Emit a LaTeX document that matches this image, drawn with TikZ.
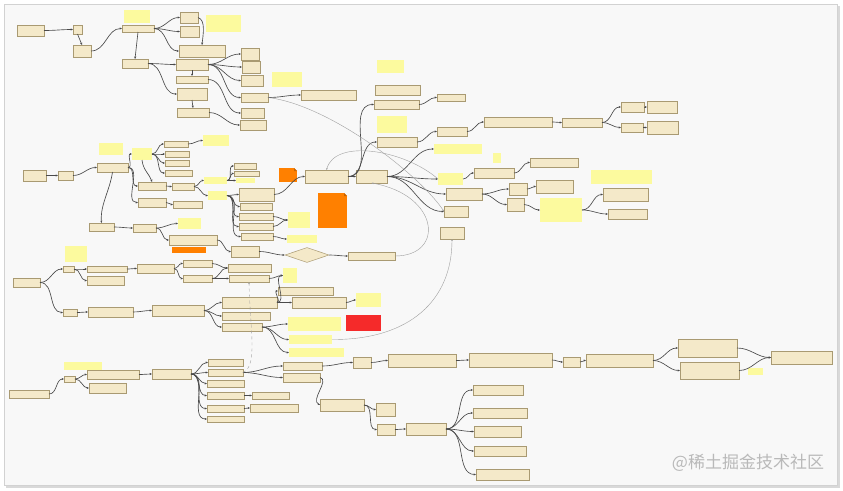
\documentclass[tikz,border=0pt]{standalone}
\usepackage{fontspec}
\newfontfamily\cjk{Noto Sans CJK SC}
\usetikzlibrary{arrows.meta,shapes.geometric}
\definecolor{boxf}{HTML}{F4E9C9}
\definecolor{boxd}{HTML}{A99A72}
\definecolor{notef}{HTML}{FCFA9E}
\definecolor{edgec}{HTML}{4A4A4A}
\definecolor{orf}{HTML}{FF8000}
\definecolor{ordk}{HTML}{C86400}
\definecolor{redf}{HTML}{F52A2A}
\definecolor{panel}{HTML}{F8F8F8}
\newcommand\BX[6][bx]{\node[#1, minimum width={(#5-#3)*1pt}, minimum height={(#6-#4)*1pt}] (#2) at ({(#3+#5)/2},{(#4+#6)/2}) {};}
\newcommand\EE[2]{\draw[ed] (#1.east) to[out=0,in=180] (#2.west);}
\newcommand\VV[2]{\draw[ed] (#1.south) -- (#2.north);}
\newcommand\FOLD[2]{\fill[panel] ([xshift=-3pt]#1.north east) -- (#1.north east) -- ([yshift=-3pt]#1.north east) -- cycle;
 \fill[#2] ([xshift=-3pt]#1.north east) -- ([xshift=-3pt,yshift=-3pt]#1.north east) -- ([yshift=-3pt]#1.north east) -- cycle;}
\tikzset{
 bx/.style={draw=boxd, fill=boxf, line width=0.5pt, inner sep=0pt, outer sep=0pt},
 nt/.style={fill=notef, inner sep=0pt, outer sep=0pt},
 orn/.style={fill=orf, inner sep=0pt, outer sep=0pt},
 rdn/.style={fill=redf, inner sep=0pt, outer sep=0pt},
 ed/.style={draw=edgec, line width=0.65pt, -{Stealth[length=2.4pt,width=2pt]}},
 lg/.style={draw=gray!75, line width=0.4pt, -{Stealth[length=2pt,width=1.6pt]}},
}
\begin{document}
\begin{tikzpicture}[x=1pt,y=-1pt]
\useasboundingbox (0,0) rectangle (843,490);
\fill[white] (0,0) rectangle (843,490);
\fill[gray!30] (6,6) rectangle (840,488);
\filldraw[fill=panel, draw=gray!35, line width=0.4pt] (4,4) rectangle (837,485);

% ---------- top-left ----------
\BX{a1}{17}{25}{44}{36}
\BX{a2}{73}{25}{82}{34}
\BX{a3}{73}{45}{91}{57}
\BX{a4}{122}{25}{154}{32}
\BX[nt]{n1}{124}{10}{150}{23}
\BX{a5}{122}{59}{148}{68}
\BX{a6}{180}{12}{198}{23}
\BX{a7}{180}{26}{199}{37}
\BX[nt]{n2}{206}{15}{241}{32}
\BX{a8}{179}{45}{225}{57}
\BX{a9}{176}{59}{208}{70}
\BX{a10}{176}{76}{208}{83}
\BX{a11}{177}{88}{207}{100}
\BX{a12}{177}{108}{209}{117}
\BX{a13}{241}{48}{259}{60}
\BX{a14}{242}{61}{260}{73}
\BX{a15}{241}{75}{263}{86}
\BX{a16}{241}{93}{268}{102}
\BX{a17}{241}{108}{264}{118}
\BX{a18}{240}{120}{266}{130}
\BX[nt]{n3}{272}{72}{302}{87}
\BX{b01}{301}{90}{356}{100}
\BX[nt]{n4}{377}{60}{404}{73}
\BX{b02}{375}{85}{420}{95}
\BX{b03}{374}{100}{419}{109}
\BX{b04}{437}{94}{465}{101}
\BX[nt]{n5}{377}{116}{407}{133}
\BX{b05}{377}{137}{417}{147}
\BX{b06}{437}{127}{467}{136}
\BX{b07}{484}{117}{552}{127}
\BX{b08}{562}{118}{602}{127}
\BX{b09}{621}{102}{644}{112}
\BX{b10}{647}{101}{677}{113}
\BX{b11}{621}{123}{643}{132}
\BX{b12}{647}{121}{678}{134}

% ---------- centre right ----------
\BX[nt]{n6}{434}{144}{482}{154}
\BX[nt]{n7}{493}{153}{501}{163}
\BX{b13}{474}{168}{514}{178}
\BX{b14}{530}{158}{578}{167}
\BX[nt]{n8}{438}{173}{463}{185}
\BX{hub}{356}{170}{387}{183}
\BX{c326}{305}{170}{348}{183}
\BX[orn]{or1}{279}{168}{297}{182}
\BX[orn]{or2}{318}{193}{347}{228}
\FOLD{or1}{ordk}
\FOLD{or2}{ordk}
\BX{b15}{446}{188}{482}{200}
\BX{b16}{509}{183}{527}{195}
\BX{b17}{536}{180}{573}{193}
\BX{b18}{507}{198}{524}{211}
\BX[nt]{n9}{540}{198}{582}{222}
\BX[nt]{n10}{591}{170}{652}{184}
\BX{b19}{603}{188}{648}{201}
\BX{b20}{608}{209}{647}{219}
\BX{b21}{444}{206}{468}{217}
\BX{b22}{440}{227}{464}{239}

% ---------- middle-left ----------
\BX{m1}{23}{170}{46}{181}
\BX{m2}{58}{171}{73}{180}
\BX{m3}{97}{163}{128}{172}
\BX[nt]{mn1}{99}{143}{123}{155}
\BX[nt]{mn2}{132}{148}{152}{160}
\BX{m4}{164}{141}{188}{147}
\BX[nt]{mn3}{203}{135}{229}{146}
\BX{m5}{165}{151}{189}{157}
\BX{m6}{165}{160}{189}{166}
\BX{m7}{165}{170}{192}{176}
\BX{m8}{138}{182}{166}{190}
\BX{m9}{172}{183}{194}{190}
\BX[nt]{mn4}{204}{177}{227}{184}
\BX{m10}{234}{163}{256}{169}
\BX{m11}{234}{171}{259}{176}
\BX[nt]{mn5}{236}{178}{255}{183}
\BX[nt]{mn6}{208}{191}{227}{200}
\BX{m12}{239}{188}{274}{201}
\BX{m13}{240}{203}{272}{210}
\BX{m14}{239}{213}{273}{220}
\BX{m15}{239}{223}{273}{230}
\BX{m16}{241}{233}{273}{240}
\BX{m17}{138}{198}{166}{207}
\BX{m18}{173}{201}{202}{208}
\BX{m19}{89}{223}{114}{231}
\BX{m20}{133}{224}{156}{232}
\BX[nt]{mn7}{178}{218}{201}{229}
\BX{m21}{169}{235}{217}{245}
\BX[orn]{or3}{172}{247}{206}{253}
\BX{m22}{231}{246}{259}{257}
\BX[nt]{mn8}{288}{212}{310}{228}
\BX[nt]{mn9}{287}{235}{317}{243}
\node[diamond, aspect=3.2, draw=boxd, fill=boxf, line width=0.5pt, minimum width=44pt, minimum height=15pt, inner sep=0pt] (dia) at (307,255) {};
\BX{m23}{348}{252}{395}{260}

% ---------- lower-left ----------
\BX{c1}{13}{278}{40}{287}
\BX{c2}{63}{266}{74}{272}
\BX[nt]{cn1}{65}{246}{87}{262}
\BX{c3}{87}{266}{127}{272}
\BX{c4}{87}{276}{124}{285}
\BX{c5}{137}{264}{174}{273}
\BX{c6}{183}{260}{212}{267}
\BX{c7}{183}{275}{212}{282}
\BX{c8}{228}{264}{271}{272}
\BX{c10}{229}{275}{269}{282}
\BX{c9}{63}{309}{77}{316}
\BX{c11}{88}{307}{133}{317}
\BX{c12}{152}{305}{204}{316}
\BX{c13}{222}{297}{277}{308}
\BX{c14}{222}{312}{270}{320}
\BX{c15}{222}{323}{262}{331}
\BX[nt]{cn2}{283}{268}{297}{283}
\BX{c16}{278}{287}{333}{295}
\BX{c17}{292}{297}{346}{308}
\BX[nt]{cn3}{356}{293}{381}{307}
\BX[nt]{cn4}{288}{317}{341}{331}
\BX[rdn]{red}{346}{315}{381}{331}
\BX[nt]{cn5}{289}{335}{332}{344}
\BX[nt]{cn6}{289}{348}{344}{357}

% ---------- bottom ----------
\BX{d1}{9}{390}{49}{398}
\BX{d2}{64}{376}{75}{382}
\BX[nt]{dn1}{64}{362}{102}{370}
\BX{d3}{87}{370}{139}{379}
\BX{d4}{89}{383}{126}{393}
\BX{d5}{152}{369}{191}{379}
\BX{d6}{208}{359}{243}{366}
\BX{d7}{208}{369}{243}{376}
\BX{d8}{207}{380}{244}{387}
\BX{d9}{207}{392}{244}{399}
\BX{d12}{252}{392}{289}{399}
\BX{d10}{207}{405}{244}{412}
\BX{d13}{250}{404}{298}{412}
\BX{d11}{207}{416}{244}{422}
\BX{e1}{283}{362}{322}{370}
\BX{e2}{283}{373}{320}{382}
\BX{f1}{353}{357}{371}{368}
\BX{f2}{388}{354}{456}{367}
\BX{f3}{469}{353}{552}{367}
\BX{f4}{563}{357}{580}{367}
\BX{f5}{586}{354}{653}{367}
\BX{f6}{678}{339}{737}{357}
\BX{f7}{680}{362}{739}{379}
\BX[nt]{fn1}{748}{368}{763}{375}
\BX{f8}{771}{351}{832}{364}
\BX{g1}{320}{399}{364}{411}
\BX{g2}{376}{403}{395}{416}
\BX{g3}{377}{424}{395}{435}
\BX{g4}{406}{423}{446}{435}
\BX{h1}{473}{385}{523}{395}
\BX{h2}{473}{408}{527}{418}
\BX{h3}{474}{426}{521}{437}
\BX{h4}{474}{446}{526}{456}
\BX{h5}{476}{469}{529}{480}

% ---------- connectors: top-left ----------
\EE{a1}{a2}
\VV{a2}{a3}
\EE{a3}{a4}
\VV{a4}{a5}
\EE{a4}{a6} \EE{a4}{a7} \EE{a4}{a8}
\draw[ed] (a6.east) .. controls (206,20) and (203,35) .. (a8.north);
\EE{a5}{a9} \EE{a5}{a11}
\VV{a9}{a10} \VV{a11}{a12}
\EE{a9}{a13} \EE{a9}{a14} \EE{a9}{a15} \EE{a9}{a16}
\EE{a10}{a17} \EE{a12}{a18}
\EE{a16}{b01}
\EE{c326}{b03} \EE{c326}{b05} \EE{c326}{hub}
\EE{b03}{b04} \EE{b05}{b06} \EE{b06}{b07} \EE{b07}{b08}
\EE{b08}{b09} \EE{b08}{b11} \EE{b09}{b10} \EE{b11}{b12}
% centre right
\EE{hub}{n6} \EE{hub}{n8} \EE{hub}{b15} \EE{hub}{b21}
\EE{n8}{b13} \EE{b13}{b14}
\EE{b15}{b16} \EE{b15}{b18} \EE{b16}{b17} \EE{b18}{n9}
\EE{n9}{b19} \EE{n9}{b20}
% middle-left
\EE{m1}{m2} \EE{m2}{m3}
\EE{m3}{mn2} \EE{m3}{m8} \EE{m3}{m17}
\EE{mn2}{m4} \EE{mn2}{m5} \EE{mn2}{m6} \EE{mn2}{m7}
\draw[ed] (mn2.south) .. controls (143,170) and (150,175) .. (m8.north);
\EE{m4}{mn3}
\EE{m8}{m9} \EE{m9}{mn4} \EE{m9}{mn6}
\EE{mn4}{m10} \EE{mn4}{m11} \EE{mn4}{mn5}
\EE{mn6}{m12} \EE{mn6}{m13} \EE{mn6}{m14} \EE{mn6}{m15} \EE{mn6}{m16}
\EE{m17}{m18}
\draw[ed] (m3.south) .. controls (110,190) and (100,205) .. (m19.north);
\EE{m19}{m20} \EE{m20}{mn7} \EE{m20}{m21} \EE{m21}{m22}
\EE{m22}{dia} \EE{dia}{m23}
\EE{m12}{c326}
\EE{m14}{mn8} \EE{m15}{mn8} \EE{m16}{mn9}
% lower-left
\EE{c1}{c2} \EE{c1}{c9}
\EE{c2}{c3} \EE{c2}{c4} \EE{c3}{c5}
\EE{c5}{c6} \EE{c5}{c7}
\EE{c6}{c8} \EE{c7}{c8} \EE{c7}{c10}
\EE{c10}{cn2}
\EE{c9}{c11} \EE{c11}{c12}
\EE{c12}{c13} \EE{c12}{c14} \EE{c12}{c15}
\EE{c13}{cn2} \EE{c13}{c16} \EE{c13}{c17}
\EE{c17}{cn3}
\EE{c15}{cn4} \EE{c15}{cn5} \EE{c15}{cn6}
% bottom
\EE{d1}{d2} \EE{d2}{d3} \EE{d2}{d4} \EE{d3}{d5}
\EE{d5}{d6} \EE{d5}{d7} \EE{d5}{d8} \EE{d5}{d9} \EE{d5}{d10} \EE{d5}{d11}
\EE{d9}{d12} \EE{d10}{d13}
\EE{d7}{e1} \EE{d7}{e2}
\EE{e1}{f1} \EE{f1}{f2} \EE{f2}{f3} \EE{f3}{f4} \EE{f4}{f5}
\EE{f5}{f6} \EE{f5}{f7} \EE{f6}{f8} \EE{f7}{f8}
\draw[ed] (e2.east) .. controls (330,380) and (310,400) .. (g1.west);
\EE{g1}{g2} \EE{g1}{g3} \EE{g3}{g4}
\EE{g4}{h1} \EE{g4}{h2} \EE{g4}{h3} \EE{g4}{h4} \EE{g4}{h5}

% ---------- long thin dependency curves ----------
\draw[lg] (a16.east) .. controls (330,105) and (420,175) .. (b21.west);
\draw[lg] (n8.west) .. controls (405,150) and (335,138) .. (c326.north);
\draw[lg] (m23.east) .. controls (445,256) and (440,195) .. (hub.south);
\draw[lg] (cn5.east) .. controls (410,340) and (452,300) .. (b22.south);
\draw[lg, dashed] (d7.east) .. controls (258,366) and (250,330) .. (c10.south);

% watermark
\node[text=gray!55, font=\cjk\fontsize{17}{17}\selectfont, inner sep=0pt] (wm) at (748,463) {@稀土掘金技术社区};
\end{tikzpicture}
\end{document}
